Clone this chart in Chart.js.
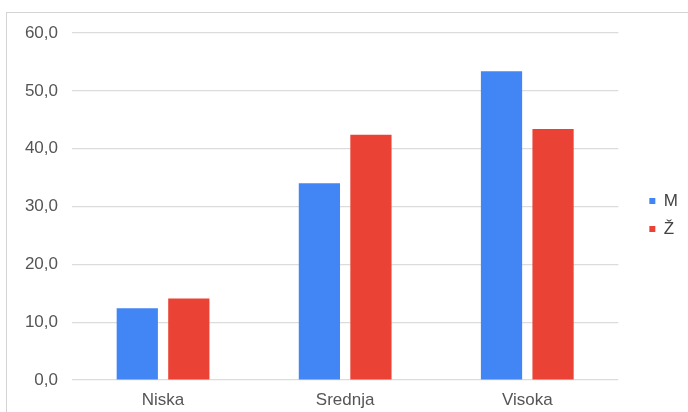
<!DOCTYPE html>
<html>
<head>
<meta charset="utf-8">
<script src="https://cdn.jsdelivr.net/npm/chart.js@4"></script>
<style>
  body { margin: 0; background: #fff; }
  #wrap { position: relative; width: 688px; height: 412px; overflow: hidden; }
  #frame { position: absolute; left: 6px; top: 12px; width: 700px; height: 420px; border: 1.5px solid #d4d4d4; }
  #chart { position: absolute; left: 0; top: 0; }
</style>
</head>
<body>
<div id="wrap">
  <div id="frame"></div>
  <canvas id="chart" width="688" height="412"></canvas>
</div>
<script>
const categories = ['Niska', 'Srednja', 'Visoka']
const series_m = [12.4, 34.0, 53.4]
const series_z = [14.1, 42.4, 43.4]
const series_names = ['M', 'Ž']
const y_ticks = [0, 10, 20, 30, 40, 50, 60]

Chart.defaults.font.family = "'Liberation Sans', Arial, sans-serif"
Chart.defaults.color = '#555'

// legend sits in the right padding, move it back out and up a little
const legendShift = {
    id: 'legendShift',
    afterLayout(chart) {
        chart.legend.top -= 7
        chart.legend.bottom -= 7
        chart.legend.left += 20
        chart.legend.right += 20
    }
}

var myChart = new Chart(document.getElementById('chart'), {
    type: 'bar',
    data: {
        labels: categories,
        datasets: [{
            label: series_names[0],
            data: series_m,
            backgroundColor: '#4285f4',
            categoryPercentage: 0.566,
            barPercentage: 0.8
        }, {
            label: series_names[1],
            data: series_z,
            backgroundColor: '#ea4335',
            categoryPercentage: 0.566,
            barPercentage: 0.8
        }]
    },
    plugins: [legendShift],
    options: {
        responsive: false,
        animation: false,
        layout: {
            padding: { left: 0, right: 20, top: 33, bottom: 1 }
        },
        plugins: {
            legend: {
                position: 'right',
                labels: {
                    boxWidth: 6,
                    boxHeight: 6,
                    padding: 11,
                    font: { size: 17 },
                    color: '#444'
                }
            },
            tooltip: { enabled: false }
        },
        scales: {
            x: {
                afterFit: axis => { axis.height = 31 },
                grid: { display: false, drawTicks: false },
                border: { display: false },
                ticks: { padding: 10, font: { size: 17 } }
            },
            y: {
                min: 0,
                max: 60,
                afterBuildTicks: axis => { axis.ticks = y_ticks.map(v => ({ value: v })) },
                afterFit: axis => { axis.width = 72 },
                grid: { color: '#dcdcdc', lineWidth: 1.2, drawTicks: false },
                border: { display: false },
                ticks: {
                    padding: 14,
                    font: { size: 17 },
                    callback: v => v.toFixed(1).replace('.', ',')
                }
            }
        }
    }
});
</script>
</body>
</html>
